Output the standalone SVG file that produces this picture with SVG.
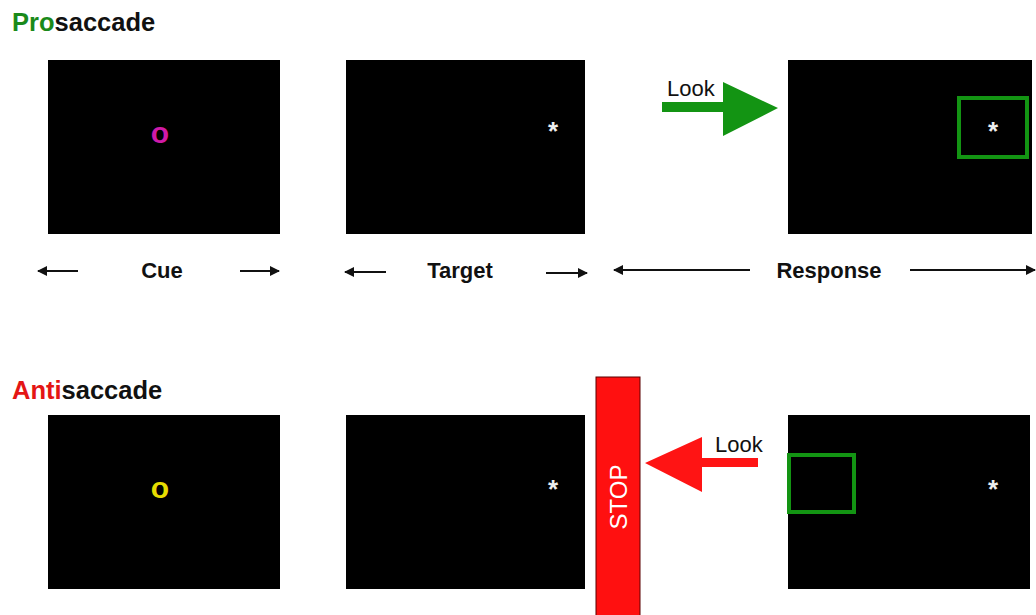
<svg xmlns="http://www.w3.org/2000/svg" width="1036" height="615" viewBox="0 0 1036 615">
  <style>
    .screen { fill: #000; }
    .title { font-family: "Liberation Sans", Arial, sans-serif; font-weight: bold; font-size: 25.5px; fill: #111; }
    .label { font-family: "Liberation Sans", Arial, sans-serif; font-weight: bold; font-size: 22px; fill: #111; text-anchor: middle; }
    .look { font-family: "Liberation Sans", Arial, sans-serif; font-size: 22px; fill: #111; }
    .star { font-family: "Liberation Sans", Arial, sans-serif; font-weight: bold; font-size: 26px; fill: #eee; text-anchor: middle; }
    .cue { font-family: "Liberation Sans", Arial, sans-serif; font-weight: bold; font-size: 30px; text-anchor: middle; }
    .conn { stroke: #111; stroke-width: 2; fill: none; marker-end: url(#head); }
    .gaze { fill: none; stroke: #139413; stroke-width: 4; }
  </style>
  <defs>
    <marker id="head" viewBox="0 0 10 10" refX="9" refY="5" markerWidth="5" markerHeight="5" orient="auto" markerUnits="strokeWidth">
      <path d="M0,0 L10,5 L0,10 z" fill="#111"/>
    </marker>
  </defs>

  <!-- section headings -->
  <g id="title-pro">
    <text class="title" x="12" y="31"><tspan fill="#1a8a1a">Pro</tspan>saccade</text>
  </g>
  <g id="title-anti">
    <text class="title" x="12" y="399"><tspan fill="#e41515">Anti</tspan>saccade</text>
  </g>

  <!-- prosaccade trial -->
  <g id="pro-cue">
    <rect class="screen" x="48" y="60" width="232" height="174"/>
    <text class="cue" x="160" y="143" fill="#d01aa8">o</text>
  </g>
  <g id="pro-target">
    <rect class="screen" x="346" y="60" width="239" height="174"/>
    <text class="star" x="553" y="140">*</text>
  </g>
  <g id="pro-look">
    <text class="look" x="667" y="96">Look</text>
    <path d="M662,102 H723 V82 L778,108 L723,136 V112 H662 z" fill="#139413"/>
  </g>
  <g id="pro-response">
    <rect class="screen" x="788" y="60" width="244" height="174"/>
    <rect class="gaze" x="959" y="98" width="68" height="59"/>
    <text class="star" x="993" y="140">*</text>
  </g>

  <!-- phase labels -->
  <g id="phase-labels">
    <text class="label" x="162" y="278">Cue</text>
    <text class="label" x="460" y="278">Target</text>
    <text class="label" x="829" y="278">Response</text>
  </g>

  <!-- antisaccade trial -->
  <g id="anti-cue">
    <rect class="screen" x="48" y="415" width="232" height="174"/>
    <text class="cue" x="160" y="498" fill="#e6dc00">o</text>
  </g>
  <g id="anti-target">
    <rect class="screen" x="346" y="415" width="239" height="174"/>
    <text class="star" x="553" y="498">*</text>
  </g>
  <g id="anti-stop">
    <rect x="596" y="377" width="44" height="240" fill="#ff1010" stroke="#5a0000" stroke-width="1"/>
    <text x="618" y="497" transform="rotate(-90 618 497)" text-anchor="middle" dominant-baseline="central" font-family="Liberation Sans, Arial, sans-serif" font-size="24" fill="#fff">STOP</text>
  </g>
  <g id="anti-look">
    <text class="look" x="715" y="452">Look</text>
    <path d="M758,458 H702 V437 L645,463 L702,492 V467 H758 z" fill="#ff1414"/>
  </g>
  <g id="anti-response">
    <rect class="screen" x="788" y="415" width="242" height="174"/>
    <rect class="gaze" x="789" y="455" width="65" height="57"/>
    <text class="star" x="993" y="498">*</text>
  </g>

  <!-- timing connectors -->
  <g id="connectors">
    <line class="conn" x1="78" y1="271" x2="38" y2="271"/>
    <line class="conn" x1="240" y1="271" x2="279" y2="271"/>
    <line class="conn" x1="386" y1="272" x2="345" y2="272"/>
    <line class="conn" x1="546" y1="273" x2="587" y2="273"/>
    <line class="conn" x1="750" y1="270" x2="614" y2="270"/>
    <line class="conn" x1="910" y1="270" x2="1035" y2="270"/>
  </g>
</svg>
